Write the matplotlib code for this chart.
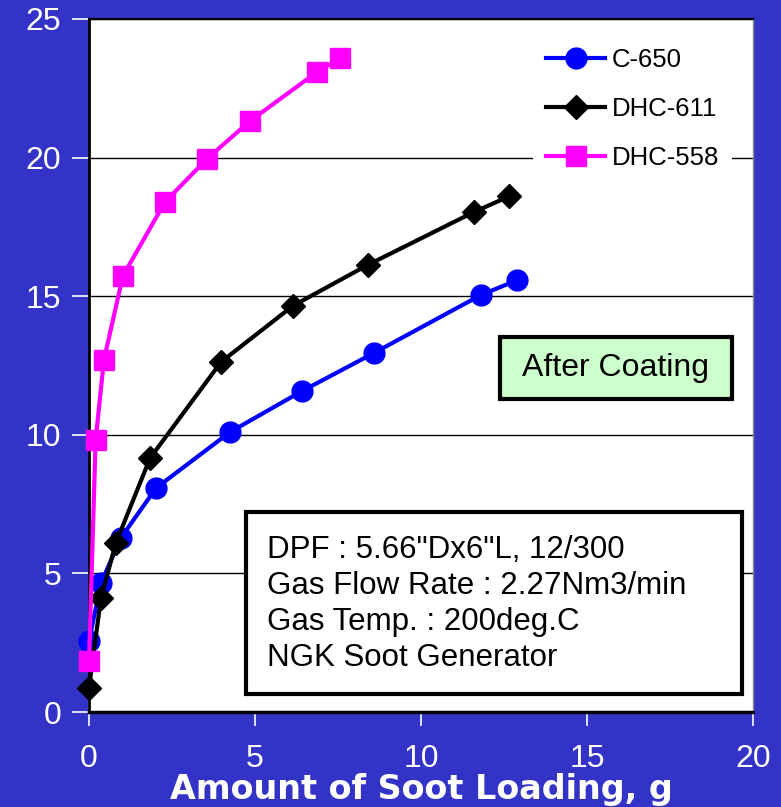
"""
pressure drop vs soot loading, after coating
"""
import matplotlib.pyplot as plt
from matplotlib.patches import Rectangle

# --- data
c650_x = [0.0, 0.36, 0.96, 2.02, 4.25, 6.42, 8.58, 11.8, 12.9]
c650_y = [2.56, 4.65, 6.28, 8.08, 10.1, 11.58, 12.95, 15.04, 15.58]

dhc611_x = [0.0, 0.36, 0.81, 1.84, 3.98, 6.14, 8.4, 11.6, 12.65]
dhc611_y = [0.87, 4.11, 6.1, 9.16, 12.63, 14.65, 16.13, 18.04, 18.6]

dhc558_x = [0.0, 0.2, 0.45, 1.02, 2.29, 3.55, 4.85, 6.87, 7.56]
dhc558_y = [1.84, 9.81, 12.7, 15.73, 18.4, 19.95, 21.32, 23.09, 23.59]

xticks = [0, 5, 10, 15, 20]
yticks = [0, 5, 10, 15, 20, 25]

info = 'DPF : 5.66"Dx6"L, 12/300\nGas Flow Rate : 2.27Nm3/min\nGas Temp. : 200deg.C\nNGK Soot Generator'

# --- Plot
plt.rcParams['font.family'] = ['Liberation Sans', 'DejaVu Sans']
bg = '#3333c8'
fig = plt.figure(figsize=(7.81, 8.07), dpi=100, facecolor=bg)
ax = fig.add_axes([89/781, 1-712/807, 664/781, 693/807])
ax.set_facecolor('white')

ax.plot(c650_x, c650_y, '-', color='#0000ff', lw=3, marker='o', ms=15, label='C-650', zorder=4, clip_on=False)
ax.plot(dhc611_x, dhc611_y, '-', color='black', lw=3, marker='D', ms=12.5, label='DHC-611', zorder=4, clip_on=False)
ax.plot(dhc558_x, dhc558_y, '-', color='#ff00ff', lw=3, marker='s', ms=14, label='DHC-558', zorder=5, clip_on=False)

ax.set_xlim(0, 20)
ax.set_ylim(0, 25)
ax.set_xticks(xticks)
ax.set_yticks(yticks)
ax.yaxis.grid(True, color='black', lw=1)
ax.set_axisbelow(True)
ax.tick_params(axis='y', direction='out', length=12, width=1.2, colors='white', labelsize=23, pad=8)
ax.tick_params(axis='x', direction='inout', length=20, width=1.2, colors='white', labelsize=23, pad=13)
for t in ax.get_xticklines() + ax.get_yticklines():
    t.set_color('black')
ax.spines['left'].set_linewidth(2)
ax.spines['bottom'].set_linewidth(2.5)
ax.spines['top'].set_linewidth(1.5)
ax.spines['right'].set_color('#888888')
ax.spines['right'].set_linewidth(1)

ax.set_xlabel('Amount of Soot Loading, g', color='white', fontsize=24, fontweight='bold',
              family='DejaVu Sans', labelpad=-1)

leg = ax.legend(loc='upper left', bbox_to_anchor=(0.669, 0.976), fontsize=18.5, frameon=True,
                handlelength=2.3, labelspacing=0.97, borderpad=0.5, handletextpad=0.27,
                borderaxespad=0)
leg.get_frame().set_facecolor('white')
leg.get_frame().set_edgecolor('none')
leg.get_frame().set_alpha(1)
leg.set_zorder(6)

# "After Coating" box
ax.add_patch(Rectangle((12.38, 11.29), 6.99, 2.24, facecolor='#ccffcc', edgecolor='black', lw=3, zorder=7))
ax.text(15.86, 12.4, 'After Coating', ha='center', va='center', fontsize=23, zorder=8)

# test conditions box
ax.add_patch(Rectangle((4.73, 0.65), 14.94, 6.56, facecolor='white', edgecolor='black', lw=3, zorder=7))
ax.text(5.36, 3.9, info, ha='left', va='center', fontsize=22.5, linespacing=1.27, zorder=8)

fig.savefig('out.png', dpi=100, facecolor=bg)
